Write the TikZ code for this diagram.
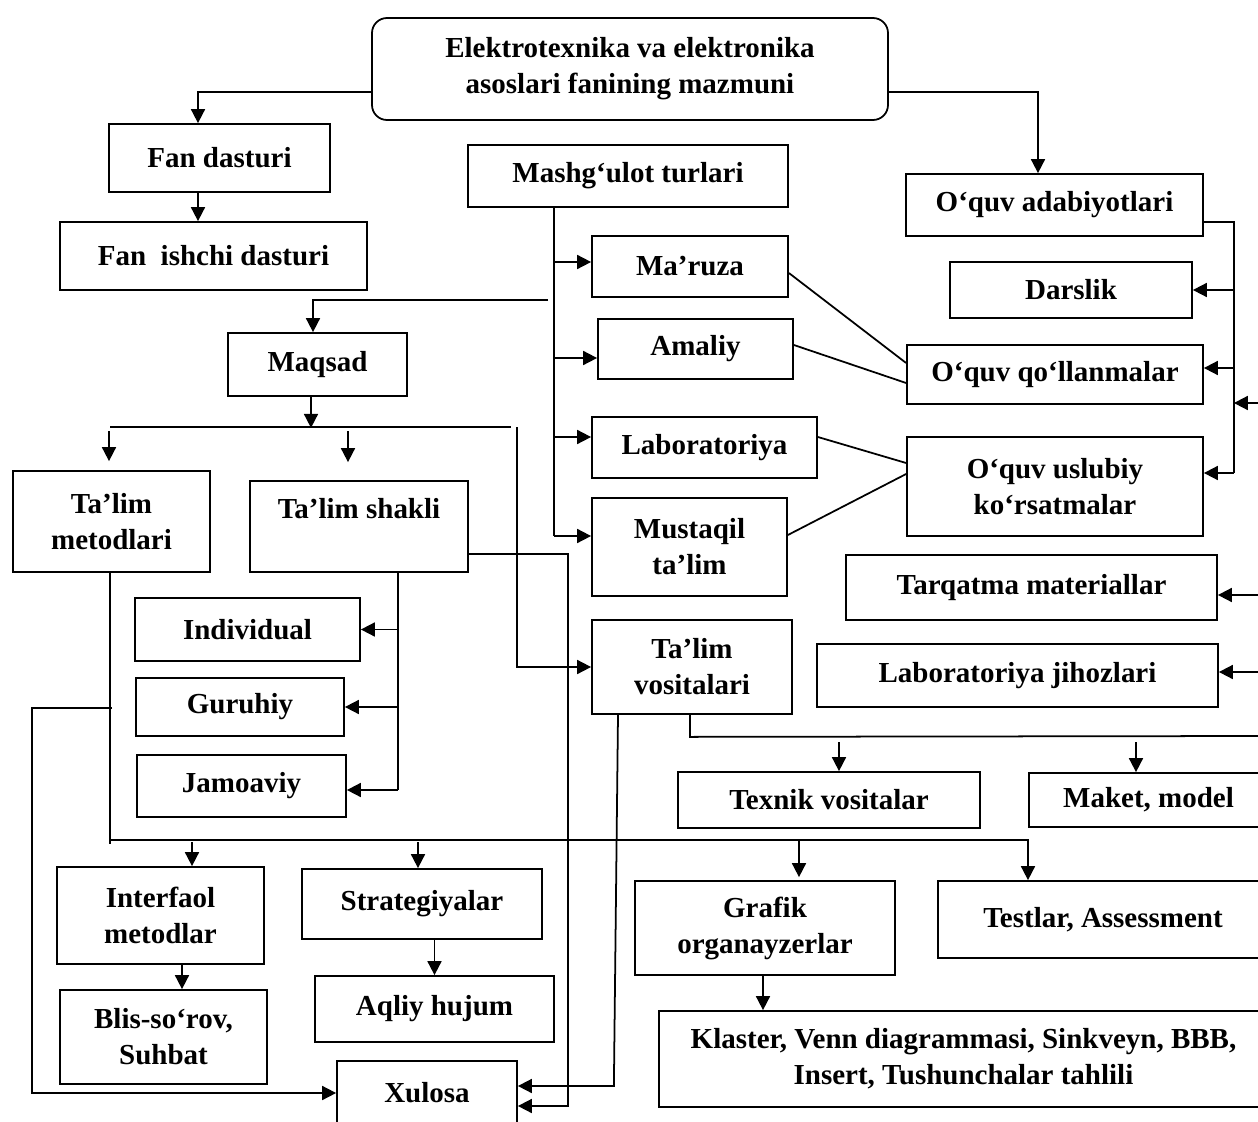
\documentclass[tikz,border=0pt]{standalone}
\usepackage{fontspec}
\setmainfont{Liberation Serif}
\usetikzlibrary{arrows.meta,calc}

\begin{document}
\begin{tikzpicture}
  [x=0.02cm,y=-0.02cm,line width=1pt,
   blok/.style={draw,align=center,inner sep=0pt,font=\fontsize{16.5}{20.5}\selectfont\bfseries},
   sz/.style 2 args={minimum width=#1*0.02cm,minimum height=#2*0.02cm},
   strel/.style={-{Triangle[length=0.28cm,width=0.28cm]}}]
  \clip (0,0) rectangle (1258,1122);
  \fill[white] (0,0) rectangle (1258,1122);

  % top
  \node[blok,sz={516}{102},rounded corners=0.3cm] (asos) at (630,69) {Elektrotexnika va elektronika\\asoslari fanining mazmuni};
  \node[blok,sz={221}{68}] (fand) at (219.5,158) {Fan dasturi};
  \node[blok,sz={307}{68}] (fanish) at (213.5,256) {Fan\ \ ishchi dasturi};
  \node[blok,sz={320}{62}] (mashg) at (628,176) {Mashg‘ulot turlari};
  \node[blok,sz={297}{62}] (adab) at (1054.5,205) {O‘quv adabiyotlari};

  % right column
  \node[blok,sz={242}{56}] (darslik) at (1071,290) {Darslik};
  \node[blok,sz={296}{59}] (qollan) at (1055,374.5) {O‘quv qo‘llanmalar};
  \node[blok,sz={296}{99}] (uslub) at (1055,486.5) {O‘quv uslubiy\\ko‘rsatmalar};
  \node[blok,sz={371}{65}] (tarq) at (1031.5,587.5) {Tarqatma materiallar};
  \node[blok,sz={401}{63}] (labjih) at (1017.5,675.5) {Laboratoriya jihozlari};

  % mashg'ulot turlari
  \node[blok,sz={196}{61}] (maruza) at (690,266.5) {Ma’ruza};
  \node[blok,sz={195}{60}] (amaliy) at (695.5,349) {Amaliy};
  \node[blok,sz={225}{61}] (labor) at (704.5,447.5) {Laboratoriya};
  \node[blok,sz={195}{98}] (mustaq) at (689.5,547) {Mustaqil\\ta’lim};

  % maqsad and below
  \node[blok,sz={179}{63}] (maqsad) at (317.5,364.5) {Maqsad};
  \node[blok,sz={197}{101}] (metod) at (111.5,521.5) {Ta’lim\\metodlari};
  \node[blok,sz={218}{91}] (shakl) at (359,526.5) {Ta’lim shakli\\~};
  \node[blok,sz={225}{63}] (indiv) at (247.5,629.5) {Individual};
  \node[blok,sz={208}{58}] (guruh) at (240,707) {Guruhiy};
  \node[blok,sz={209}{62}] (jamoa) at (241.5,786) {Jamoaviy};
  \node[blok,sz={200}{94}] (vosit) at (692,667) {Ta’lim\\vositalari};
  \node[blok,sz={302}{56}] (texnik) at (829,800) {Texnik vositalar};
  \node[blok,sz={239}{54}] (maket) at (1148.5,800) {Maket, model};

  % bottom
  \node[blok,sz={207}{97}] (interf) at (160.5,915.5) {Interfaol\\metodlar};
  \node[blok,sz={207}{94}] (blis) at (163.5,1037) {Blis-so‘rov,\\Suhbat};
  \node[blok,sz={240}{70}] (strat) at (422,904) {Strategiyalar};
  \node[blok,sz={239}{66}] (aqliy) at (434.5,1009) {Aqliy hujum};
  \node[blok,sz={180}{64}] (xulosa) at (427,1093) {Xulosa};
  \node[blok,sz={260}{94}] (grafik) at (765,928) {Grafik\\organayzerlar};
  \node[blok,sz={330}{77}] (test) at (1103,919.5) {Testlar, Assessment};
  \node[blok,sz={609}{96}] (klast) at (963.5,1059) {Klaster, Venn diagrammasi, Sinkveyn, BBB,\\Insert, Tushunchalar tahlili};

  % top connectors
  \draw[strel] ($(asos.west)+(0,23)$) -| ($(fand.north)+(-21.5,0)$);
  \draw[strel] ($(fand.south)+(-21.5,0)$) -- ($(fanish.north)+(-15.5,0)$);
  \draw[strel] ($(asos.east)+(0,23)$) -| ($(adab.north)+(-16.5,0)$);

  % o'quv adabiyotlari bus
  \coordinate (ob) at ($(uslub.east)+(30,-13.5)$);
  \draw ($(adab.east)+(0,17)$) -| (ob);
  \draw[strel] (ob |- darslik.east) -- (darslik.east);
  \draw[strel] ($(qollan.east)+(30,-6.5)$) -- ($(qollan.east)+(0,-6.5)$);
  \draw[strel] (ob) -- ($(uslub.east)+(0,-13.5)$);
  \coordinate (r1) at (1260,403);
  \draw[strel] (r1) -- (r1 -| ob);
  \draw[strel] ($(tarq.east)+(43,7.5)$) -- ($(tarq.east)+(0,7.5)$);
  \draw[strel] ($(labjih.east)+(42,-3.5)$) -- ($(labjih.east)+(0,-3.5)$);

  % mashg'ulot bus
  \coordinate (mb) at ($(mashg.south)+(-74,0)$);
  \coordinate (m1) at ($(maruza.west)+(0,-4.5)$);
  \coordinate (m2) at ($(amaliy.west)+(0,9)$);
  \coordinate (m3) at ($(labor.west)+(0,-10.5)$);
  \coordinate (m4) at ($(mustaq.west)+(0,-11)$);
  \draw (mb) -- (mb |- m4);
  \foreach \m in {m1,m2,m3,m4}
    \draw[strel] (mb |- \m) -- (\m);
  \draw ($(maruza.east)+(0,6.5)$) -- ($(qollan.west)+(0,-11.5)$);
  \draw ($(amaliy.east)+(0,-4)$) -- ($(qollan.west)+(0,8.5)$);
  \draw ($(labor.east)+(0,-10.5)$) -- ($(uslub.west)+(0,-23.5)$);
  \draw ($(mustaq.east)+(0,-12)$) -- ($(uslub.west)+(0,-12.5)$);

  % maqsad
  \coordinate (q1) at (548,300);
  \draw[strel] (q1) -| ($(maqsad.north)+(-4.5,0)$);
  \coordinate (qa) at (110,427);
  \coordinate (qb) at (511,427);
  \draw (qa) -- (qb);
  \draw[strel] ($(maqsad.south)+(-6.5,0)$) -- ($(maqsad.south)+(-6.5,31)$);
  \draw[strel] ($(metod.north)+(-2.5,-39)$) -- ($(metod.north)+(-2.5,-9)$);
  \draw[strel] ($(shakl.north)+(-11,-49)$) -- ($(shakl.north)+(-11,-18)$);
  \draw[strel] ($(qb)+(6,0)$) |- (vosit.west);

  % ta'lim shakli
  \coordinate (sb) at ($(shakl.south)+(39,0)$);
  \coordinate (j1) at ($(jamoa.east)+(0,4)$);
  \draw (sb) -- (sb |- j1);
  \draw[strel] (sb |- indiv.east) -- (indiv.east);
  \draw[strel] (sb |- guruh.east) -- (guruh.east);
  \draw[strel] (sb |- j1) -- (j1);
  \draw[strel] ($(shakl.east)+(0,27.5)$) -- ($(shakl.east)+(99,27.5)$) |- ($(xulosa.east)+(0,13)$);
  \draw[strel] ($(vosit.south)+(-74,0)$) -- ($(xulosa.east)+(96,-7)$) -- ($(xulosa.east)+(0,-7)$);

  % ta'lim vositalari
  \coordinate (vb) at ($(vosit.south)+(-2,22)$);
  \draw ($(vosit.south)+(-2,0)$) -- (vb) -- (1260,736);
  \draw[strel] ($(texnik.north)+(10,-29)$) -- ($(texnik.north)+(10,0)$);
  \draw[strel] ($(maket.north)+(-12.5,-30)$) -- ($(maket.north)+(-12.5,0)$);

  % ta'lim metodlari
  \coordinate (t1) at ($(metod.south)+(-1.5,267)$);
  \draw ($(metod.south)+(-1.5,0)$) -- ($(metod.south)+(-1.5,271)$);
  \draw[strel] (t1) -| ($(test.north)+(-75,0)$);
  \draw[strel] ($(interf.north)+(31.5,-24)$) -- ($(interf.north)+(31.5,0)$);
  \draw[strel] ($(strat.north)+(-4,-26)$) -- ($(strat.north)+(-4,0)$);
  \draw[strel] ($(grafik.north)+(34,-39)$) -- ($(grafik.north)+(34,-3)$);
  \coordinate (g1) at (112,708);
  \draw[strel] (g1) -- (32,708) |- (xulosa.west);

  % lower arrows
  \draw[strel] ($(interf.south)+(21.5,0)$) -- ($(blis.north)+(18.5,0)$);
  \draw[strel] (aqliy.north |- strat.south) -- (aqliy.north);
  \draw[strel] ($(grafik.south)+(-2,0)$) -- ($(klast.north)+(-200.5,0)$);
\end{tikzpicture}
\end{document}
